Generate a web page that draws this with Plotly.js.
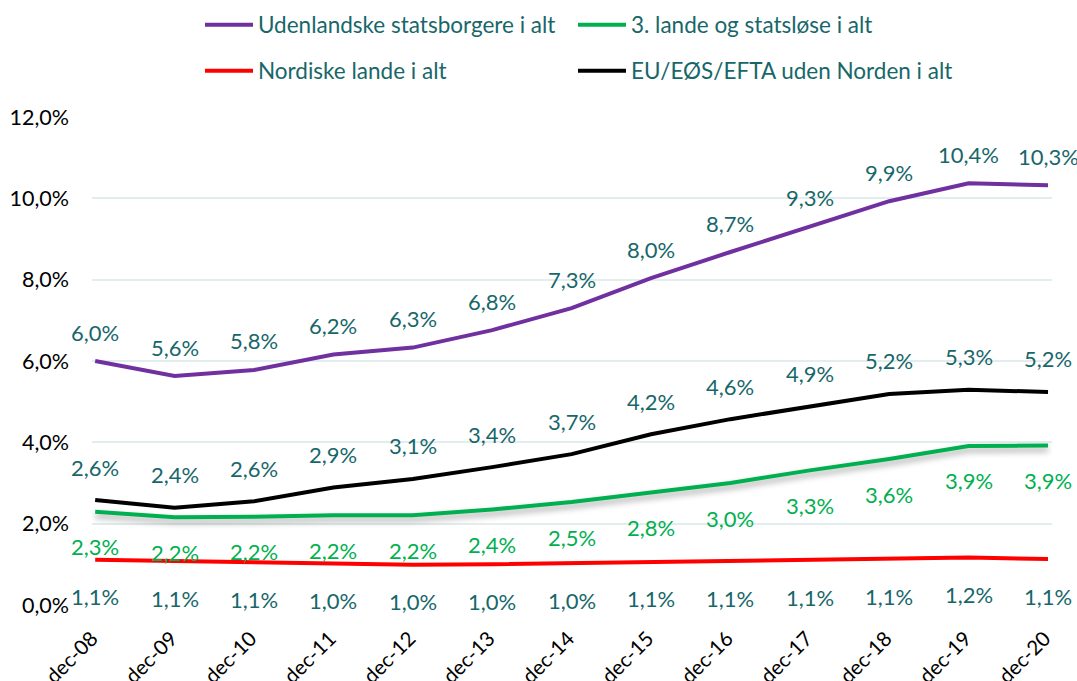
<!DOCTYPE html>
<html>
<head>
<meta charset="utf-8">
<script src="https://cdn.plot.ly/plotly-3.0.1.min.js"></script>
<style>html,body{margin:0;padding:0;background:#fff;}#chart{width:1077px;height:681px;}</style>
</head>
<body>
<div id="chart"></div>
<script>
const categories = ["dec-08","dec-09","dec-10","dec-11","dec-12","dec-13","dec-14","dec-15","dec-16","dec-17","dec-18","dec-19","dec-20"];
const udenlandske = [6.0, 5.63, 5.78, 6.16, 6.33, 6.76, 7.3, 8.04, 8.68, 9.3, 9.93, 10.37, 10.32];
const treLande = [2.29, 2.16, 2.17, 2.21, 2.21, 2.35, 2.53, 2.76, 3.0, 3.31, 3.59, 3.91, 3.92];
const nordiske = [1.11, 1.07, 1.05, 1.02, 0.99, 1.0, 1.03, 1.06, 1.08, 1.1, 1.13, 1.17, 1.13];
const euEos = [2.58, 2.39, 2.55, 2.89, 3.1, 3.39, 3.71, 4.2, 4.57, 4.89, 5.19, 5.29, 5.24];
const yTicks = [0, 2, 4, 6, 8, 10, 12];

const teal = '#17676a';
const green = '#00b050';
const font = 'Lato, "Open Sans", sans-serif';

function fmt(v){ return (Math.round(v*10)/10).toFixed(1).replace('.', ',') + '%'; }

const traces = [
  {name:'Udenlandske statsborgere i alt', x:categories, y:udenlandske, mode:'lines', line:{color:'#7030a0', width:4}, legend:'legend'},
  {name:'3. lande og statsløse i alt', x:categories, y:treLande, mode:'lines', line:{color:green, width:4}, legend:'legend2'},
  {name:'Nordiske lande i alt', x:categories, y:nordiske, mode:'lines', line:{color:'#ff0000', width:4}, legend:'legend3'},
  {name:'EU/EØS/EFTA uden Norden i alt', x:categories, y:euEos, mode:'lines', line:{color:'#000000', width:4}, legend:'legend4'}
];

const annotations = [];
function addLabels(vals, shift, color){
  vals.forEach((v,i)=>{
    annotations.push({x:categories[i], y:v, xref:'x', yref:'y', text:fmt(v), showarrow:false, yshift:shift,
      font:{family:font, size:22, color:color}});
  });
}
addLabels(udenlandske, 29, teal);
addLabels(euEos, 33, teal);
addLabels(treLande, -35, green);
addLabels(nordiske, -37, teal);

const legendCommon = {orientation:'h', xref:'container', yref:'container', xanchor:'left', yanchor:'middle',
  itemwidth:48, font:{family:font, size:22.5, color:teal}, bgcolor:'rgba(0,0,0,0)', borderwidth:0};

const layout = {
  width:1077, height:681,
  margin:{l:92, r:25, t:117, b:76},
  paper_bgcolor:'#ffffff', plot_bgcolor:'#ffffff',
  separators:', ',
  showlegend:true,
  legend:Object.assign({}, legendCommon, {x:200/1077, y:1-25/681}),
  legend2:Object.assign({}, legendCommon, {x:573/1077, y:1-25/681}),
  legend3:Object.assign({}, legendCommon, {x:200/1077, y:1-71/681}),
  legend4:Object.assign({}, legendCommon, {x:573/1077, y:1-71/681}),
  xaxis:{type:'category', range:[-0.04, 12.05], showgrid:false, zeroline:false, showline:false,
    tickangle:-45, tickfont:{family:font, size:20.5, color:'#000'}, ticks:'', ticklabelstandoff:8, fixedrange:true},
  yaxis:{range:[0,12], tickvals:yTicks, ticktext:yTicks.map(v=>v.toFixed(1).replace('.',',')+'%'),
    showgrid:true, gridcolor:'#e2eeee', gridwidth:2, zeroline:false, showline:false,
    tickfont:{family:font, size:21.5, color:'#000'}, ticks:'', ticklabelstandoff:22, fixedrange:true},
  annotations:annotations
};

const gd = document.getElementById('chart');
Plotly.newPlot(gd, traces, layout, {displayModeBar:false, staticPlot:true}).then(()=>{
  const paths = document.querySelectorAll('.scatterlayer .trace');
  if (paths[1]) {
    paths[1].querySelectorAll('path.js-line').forEach(p=>{
      p.style.filter = 'drop-shadow(0px 4px 3px rgba(0,0,0,0.35))';
    });
  }
  // place rotated x tick labels so that each label ends just right of its category position
  const xa = gd._fullLayout.xaxis;
  document.querySelectorAll('.xaxislayer-above .xtick text').forEach(t=>{
    const d = t.__data__;
    if (!d) return;
    const px = xa._offset + xa.l2p(d.x) + 4;
    const py = 640;
    const m = t.parentNode.getCTM();
    let lx = px, ly = py;
    if (m) {
      const inv = m.inverse();
      lx = inv.a*px + inv.c*py + inv.e;
      ly = inv.b*px + inv.d*py + inv.f;
    }
    t.setAttribute('x', 0);
    t.setAttribute('y', 0);
    t.removeAttribute('dy');
    t.querySelectorAll('tspan').forEach(s=>{ s.removeAttribute('dy'); s.removeAttribute('x'); s.removeAttribute('y'); });
    t.setAttribute('text-anchor', 'end');
    t.setAttribute('transform', 'translate(' + lx + ',' + ly + ') rotate(-45)');
  });
});
</script>
</body>
</html>
